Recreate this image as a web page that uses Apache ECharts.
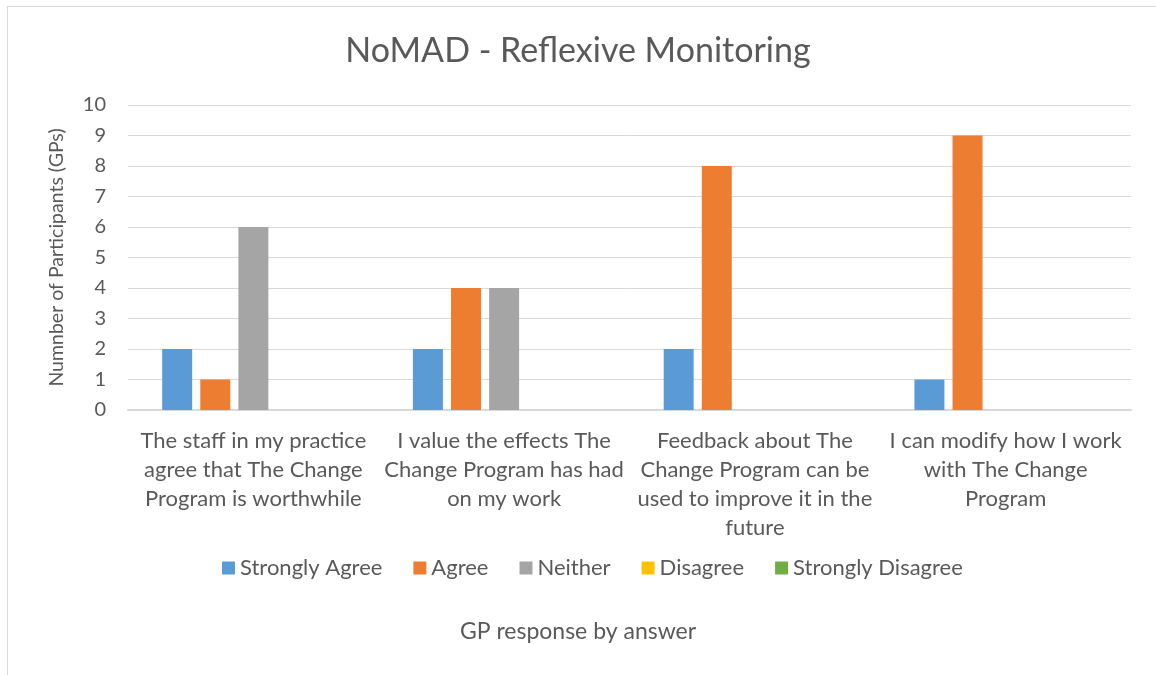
<!DOCTYPE html>
<html lang="en">
<head>
    <meta charset="UTF-8">
    <title>NoMAD - Reflexive Monitoring</title>
    <script src="https://cdn.jsdelivr.net/npm/echarts@6/dist/echarts.min.js"></script>
    <style>
        body { margin: 0; background: #fff; }
        #frame {
            position: absolute; left: 7px; top: 6px;
            width: 1200px; height: 720px;
            border: 1px solid #d9d9d9;
        }
        #main { position: absolute; left: 0; top: 0; width: 1156px; height: 675px; }
    </style>
</head>
<body>
    <div id="frame"></div>
    <div id="main"></div>
    <script>
        var categories = [
            'The staff in my practice\nagree that The Change\nProgram is worthwhile',
            'I value the effects The\nChange Program has had\non my work',
            'Feedback about The\nChange Program can be\nused to improve it in the\nfuture',
            'I can modify how I work\nwith The Change\nProgram'
        ];
        var seriesNames = ['Strongly Agree', 'Agree', 'Neither', 'Disagree', 'Strongly Disagree'];
        var seriesColors = ['#5b9bd5', '#ed7d31', '#a5a5a5', '#ffc000', '#70ad47'];
        var stronglyAgree = [2, 2, 2, 1];
        var agree = [1, 4, 8, 9];
        var neither = [6, 4, 0, 0];
        var disagree = [0, 0, 0, 0];
        var stronglyDisagree = [0, 0, 0, 0];
        var seriesValues = [stronglyAgree, agree, neither, disagree, stronglyDisagree];

        var font = 'Lato, "Open Sans", sans-serif';
        var textColor = '#595959';

        var chart = echarts.init(document.getElementById('main'));

        var series = seriesNames.map(function (name, i) {
            return {
                name: name,
                type: 'bar',
                data: seriesValues[i],
                barWidth: 30,
                barGap: '27%',
                itemStyle: { color: seriesColors[i] }
            };
        });

        chart.setOption({
            animation: false,
            textStyle: { fontFamily: font, color: textColor },
            title: [
                {
                    text: 'NoMAD - Reflexive Monitoring',
                    left: 'center',
                    top: 29,
                    textStyle: { fontFamily: font, fontSize: 34, fontWeight: 'normal', color: textColor }
                },
                {
                    text: 'GP response by answer',
                    left: 'center',
                    top: 615,
                    textStyle: { fontFamily: font, fontSize: 23, fontWeight: 'normal', color: textColor }
                }
            ],
            legend: {
                data: seriesNames,
                left: 217,
                top: 552,
                itemWidth: 13,
                itemHeight: 13,
                itemGap: 31,
                icon: 'rect',
                textStyle: { fontFamily: font, fontSize: 22, color: textColor }
            },
            grid: { left: 128, right: 25, top: 105, bottom: 265 },
            xAxis: {
                type: 'category',
                data: categories,
                axisLine: { lineStyle: { color: '#d9d9d9', width: 2 } },
                axisTick: { show: false },
                axisLabel: {
                    interval: 0,
                    margin: 16,
                    fontFamily: font,
                    fontSize: 22,
                    lineHeight: 29,
                    color: textColor,
                    align: 'center'
                }
            },
            yAxis: {
                type: 'value',
                min: 0,
                max: 10,
                interval: 1,
                name: 'Numnber of Participants (GPs)',
                nameLocation: 'middle',
                nameGap: 61,
                nameTextStyle: { fontFamily: font, fontSize: 19.5, color: textColor },
                axisLabel: { fontFamily: font, fontSize: 20, color: textColor, margin: 22 },
                axisLine: { show: false },
                axisTick: { show: false },
                splitLine: { lineStyle: { color: '#d9d9d9', width: 1 } }
            },
            series: series
        });
    </script>
</body>
</html>
